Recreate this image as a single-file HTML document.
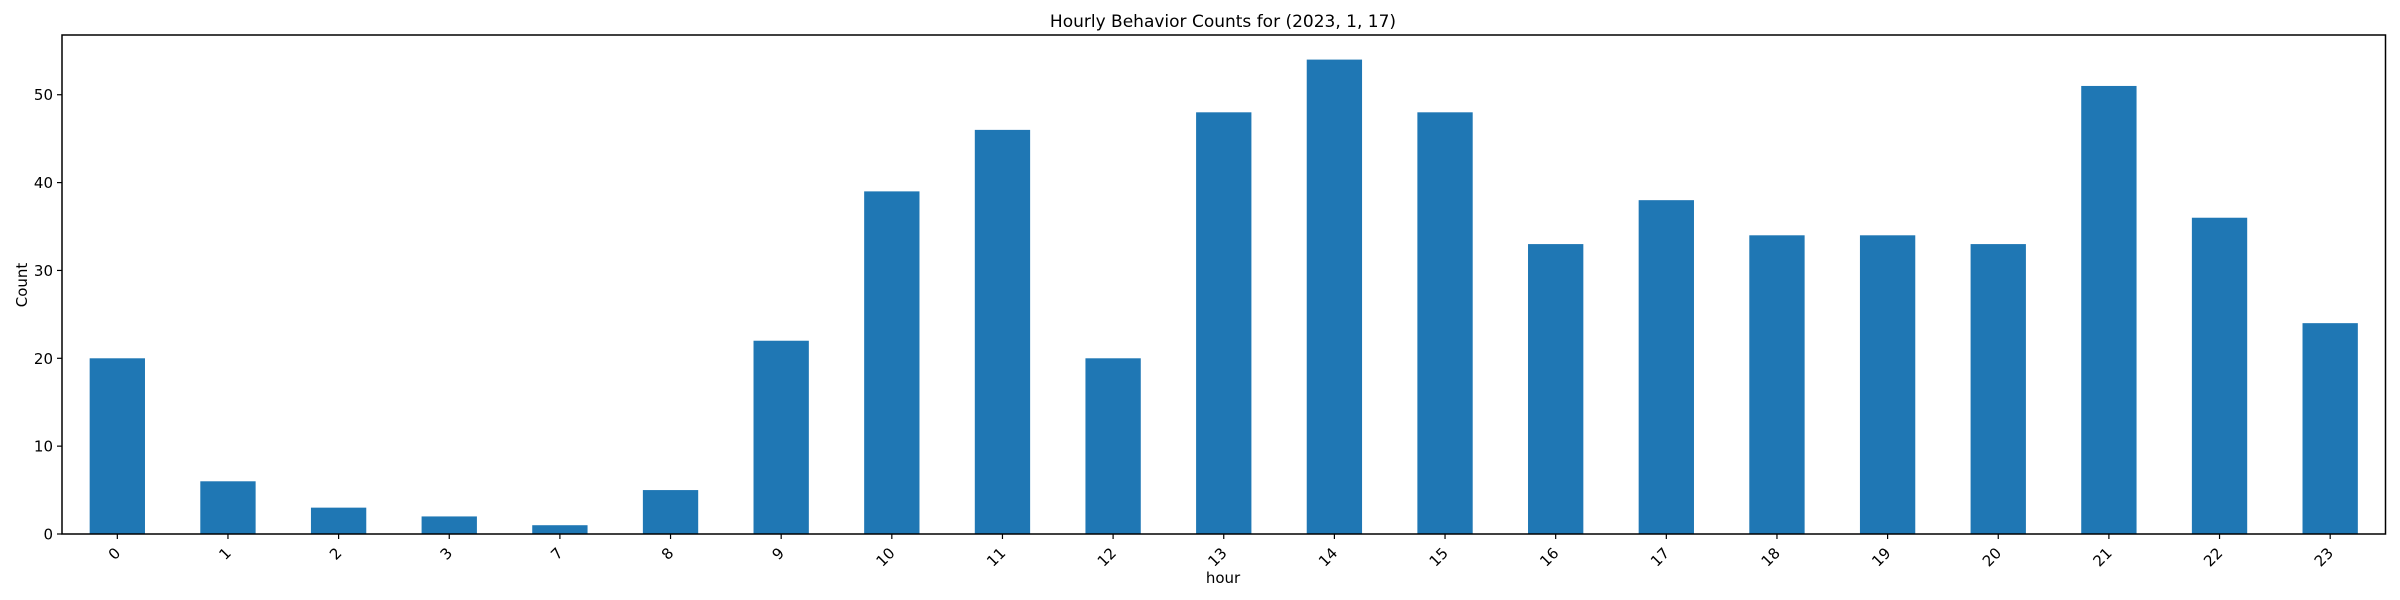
<!DOCTYPE html>
<html><head><meta charset="utf-8"><style>
html,body{margin:0;padding:0;background:#fff;}
svg{display:block;font-family:"DejaVu Sans","Liberation Sans",sans-serif;}
</style></head><body>
<svg id="chart" width="2400" height="600" xmlns="http://www.w3.org/2000/svg">
<text x="1223" y="27" font-size="17" text-anchor="middle" fill="#000">Hourly Behavior Counts for (2023, 1, 17)</text>
<g id="bars"></g>
<g id="yticks"></g>
<g id="xticks"></g>
<rect x="62" y="35" width="2323.5" height="499" fill="none" stroke="#000" stroke-width="1.5"/>
<text x="1223" y="583" font-size="15" text-anchor="middle">hour</text>
<text x="27" y="285" font-size="15" text-anchor="middle" transform="rotate(-90 27 285)">Count</text>
</svg>
<script>
const categories = ["0","1","2","3","7","8","9","10","11","12","13","14","15","16","17","18","19","20","21","22","23"];
const counts = [20,6,3,2,1,5,22,39,46,20,48,54,48,33,38,34,34,33,51,36,24];
const yTicks = [0,10,20,30,40,50];
const L=62,R=2385.5,T=35,B=534,yMax=56.8;
const ns="http://www.w3.org/2000/svg";
const step=(R-L)/categories.length;
function xPos(i){return L+step*(i+0.5);}
function yPos(v){return B-(v/yMax)*(B-T);}
const gb=document.getElementById('bars'),gx=document.getElementById('xticks'),gy=document.getElementById('yticks');
function mk(tag,attrs,parent){const e=document.createElementNS(ns,tag);for(const k in attrs)e.setAttribute(k,attrs[k]);parent.appendChild(e);return e;}
counts.forEach((v,i)=>{
  const w=step*0.5;
  const r=mk('rect',{x:xPos(i)-w/2,y:yPos(v),width:w,height:B-yPos(v),fill:'#1f77b4'},gb);
  
  
});
categories.forEach((c,i)=>{
  const x=xPos(i);
  const t=mk('line',{x1:x,x2:x,y1:B,y2:B+5,stroke:'#000','stroke-width':1.2},gx);
  
  
  const tx=mk('text',{x:x+4,y:B+20,'font-size':15,'text-anchor':'end',transform:`rotate(-45 ${x+4} ${B+20})`},gx);
  tx.textContent=c;
  
  
});
yTicks.forEach(v=>{
  const y=yPos(v);
  const t=mk('line',{x1:L-5,x2:L,y1:y,y2:y,stroke:'#000','stroke-width':1.2},gy);
  
  
  const tx=mk('text',{x:L-9,y:y+5.5,'font-size':15,'text-anchor':'end'},gy);
  tx.textContent=v;
  
  
});
</script>
</body></html>
